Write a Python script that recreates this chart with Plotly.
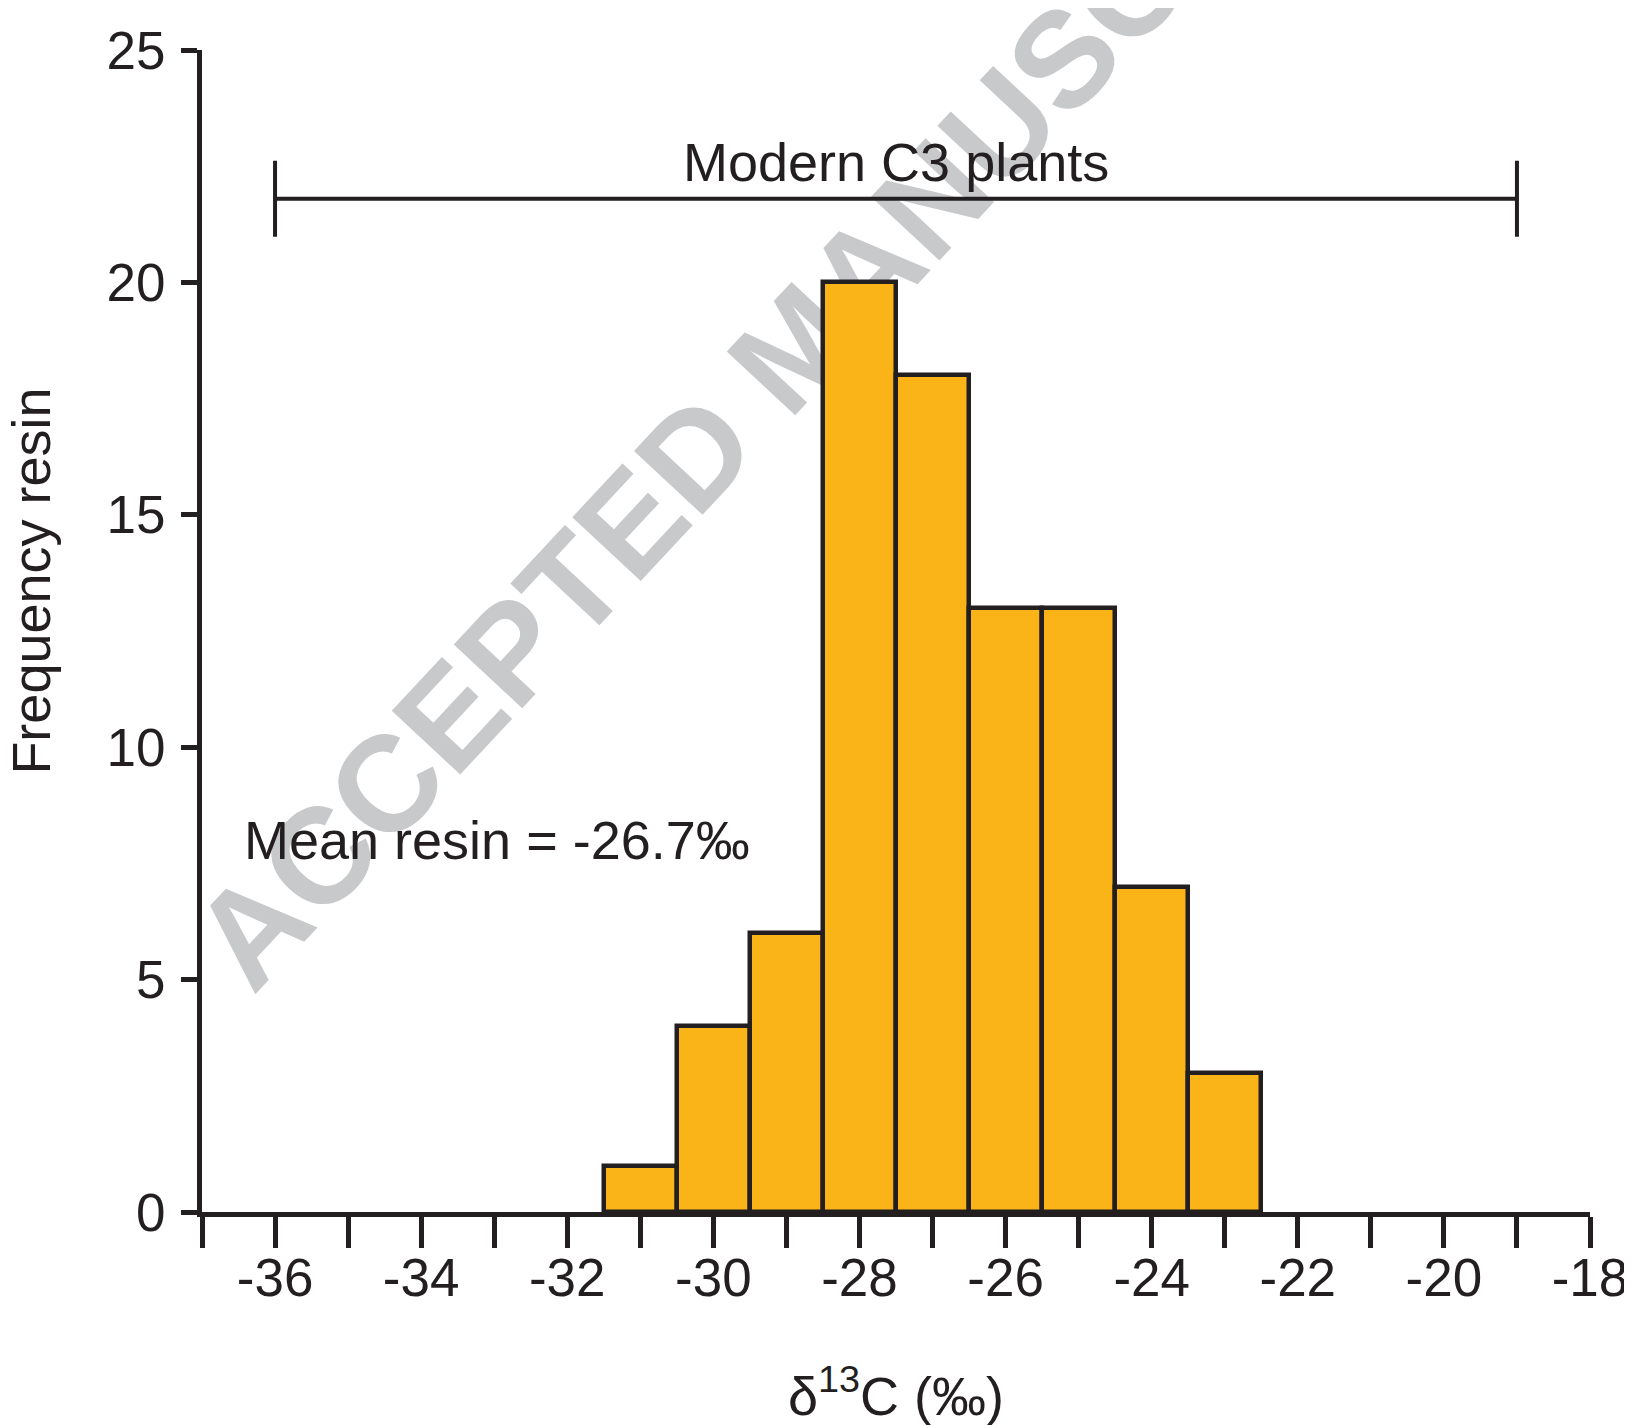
import plotly.graph_objects as go

# Histogram data (bin centres, counts)
bin_centers = [-31, -30, -29, -28, -27, -26, -25, -24, -23]
counts = [1, 4, 6, 20, 18, 13, 13, 7, 3]
bin_width = 1

# Modern C3 plants range
c3_min, c3_max = -36, -19
c3_level = 21.8

mean_label = "Mean resin = -26.7‰"
x_ticks = list(range(-37, -17))
x_ticklabels = [str(v) if v % 2 == 0 else "" for v in x_ticks]
y_ticks = [0, 5, 10, 15, 20, 25]

INK = "#231f20"
FONT = "Liberation Sans, Arial, sans-serif"

fig = go.Figure()

fig.add_trace(go.Bar(
    x=bin_centers, y=counts, width=bin_width,
    marker=dict(color="#FBB418", line=dict(color=INK, width=4.5)),
    showlegend=False, hoverinfo="x+y",
))

c3_mid = (c3_min + c3_max) / 2
c3_half = (c3_max - c3_min) / 2
fig.add_trace(go.Scatter(
    x=[c3_mid], y=[c3_level], mode="markers",
    marker=dict(size=1, color="rgba(0,0,0,0)"),
    error_x=dict(type="data", array=[c3_half], symmetric=True,
                 color=INK, thickness=4, width=38),
    showlegend=False, hoverinfo="skip",
))

# Watermark drawn as a shape label below the traces
fig.add_shape(
    type="rect", xref="paper", yref="paper",
    x0=0.4110, x1=0.4310, y0=0.7431, y1=0.7631,
    line=dict(width=0), fillcolor="rgba(0,0,0,0)", layer="below",
    label=dict(text="ACCEPTED MANUSCRIPT", textangle=-47,
               textposition="middle center",
               font=dict(family=FONT, size=136, color="#c8c9cb", weight="bold")),
)

annotations = [
    dict(text="Modern C3 plants", x=c3_mid, y=22.6, xref="x", yref="y",
         showarrow=False, xanchor="center", yanchor="middle",
         font=dict(family=FONT, size=54, color=INK)),
    dict(text=mean_label, x=-36.45, y=8.0, xref="x", yref="y",
         showarrow=False, xanchor="left", yanchor="middle",
         font=dict(family=FONT, size=54, color=INK)),
    dict(text="δ<sup>13</sup>C (‰)", x=0.5, y=-0.155, xref="paper", yref="paper",
         showarrow=False, xanchor="center", yanchor="middle",
         font=dict(family=FONT, size=54, color=INK)),
    dict(text="Frequency resin", x=-0.1235, y=0.543, xref="paper", yref="paper",
         showarrow=False, xanchor="center", yanchor="middle", textangle=-90,
         font=dict(family=FONT, size=54, color=INK)),
]

fig.update_layout(
    width=1632, height=1425,
    margin=dict(l=194, r=50, t=42, b=220.5, autoexpand=False),
    paper_bgcolor="white", plot_bgcolor="rgba(0,0,0,0)",
    bargap=0,
    annotations=annotations,
    font=dict(family=FONT, color=INK),
)

fig.update_xaxes(
    range=[-37, -18], showgrid=False, zeroline=False,
    showline=True, linecolor=INK, linewidth=5,
    ticks="outside", ticklen=31, tickwidth=4.5, tickcolor=INK,
    tickvals=x_ticks, ticktext=x_ticklabels,
    tickfont=dict(family=FONT, size=53, color=INK),
    ticklabelstandoff=-16,
)
fig.update_yaxes(
    range=[0, 25], showgrid=False, zeroline=False,
    showline=True, linecolor=INK, linewidth=5,
    ticks="outside", ticklen=16, tickwidth=4.5, tickcolor=INK,
    tickvals=y_ticks,
    tickfont=dict(family=FONT, size=53, color=INK),
    ticklabelstandoff=5,
)

fig.write_html("out.html")
